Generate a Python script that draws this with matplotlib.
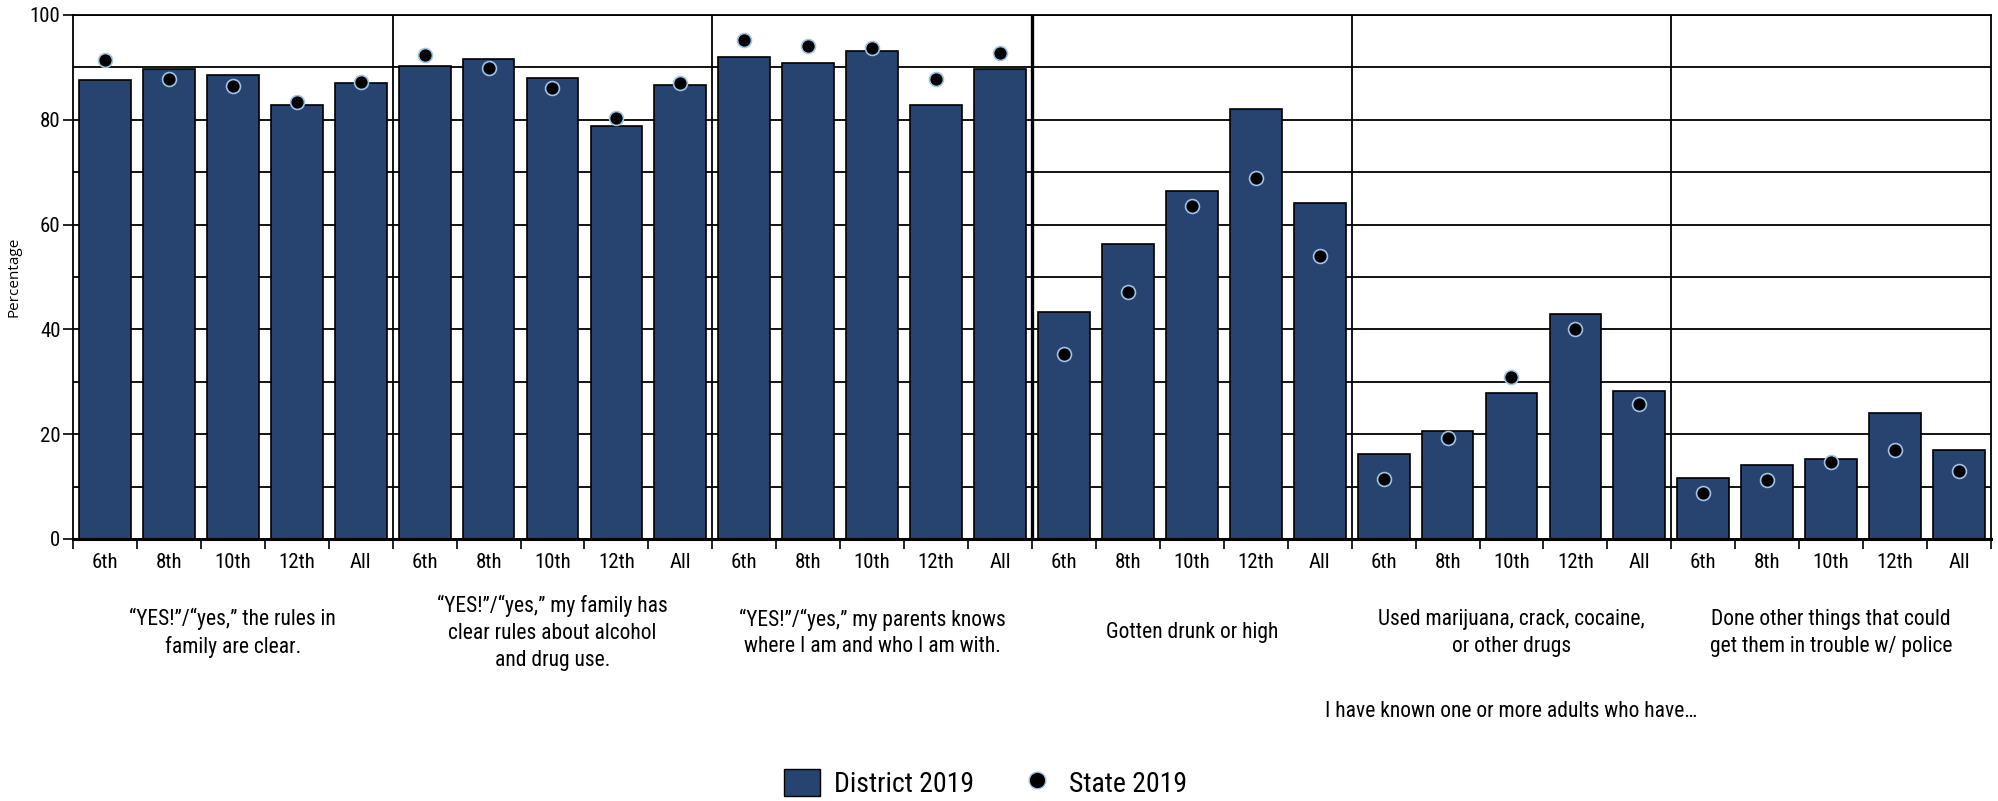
import numpy as np
import matplotlib
matplotlib.use("Agg")
import matplotlib.pyplot as plt
from matplotlib.lines import Line2D
from matplotlib.patches import Patch

plt.rcParams['font.family'] = ['Roboto Condensed', 'Liberation Sans Narrow', 'Roboto', 'DejaVu Sans']

# data
grades = ['6th', '8th', '10th', '12th', 'All']
group_labels = [
    '\u201cYES!\u201d/\u201cyes,\u201d the rules in\nfamily are clear.',
    '\u201cYES!\u201d/\u201cyes,\u201d my family has\nclear rules about alcohol\nand drug use.',
    '\u201cYES!\u201d/\u201cyes,\u201d my parents knows\nwhere I am and who I am with.',
    'Gotten drunk or high',
    'Used marijuana, crack, cocaine,\nor other drugs',
    'Done other things that could\nget them in trouble w/ police',
]
district_rules_clear = [87.6, 89.6, 88.6, 82.8, 87.0]
district_family_rules = [90.3, 91.6, 88.0, 78.8, 86.6]
district_parents_know = [91.9, 90.9, 93.2, 82.8, 89.6]
district_drunk_high = [43.3, 56.3, 66.5, 82.1, 64.2]
district_drugs = [16.2, 20.7, 27.9, 43.0, 28.2]
district_police = [11.6, 14.2, 15.2, 24.0, 16.9]

state_rules_clear = [91.5, 87.7, 86.5, 83.4, 87.2]
state_family_rules = [92.4, 89.9, 86.1, 80.4, 87.1]
state_parents_know = [95.3, 94.0, 93.7, 87.7, 92.7]
state_drunk_high = [35.3, 47.2, 63.6, 68.8, 54.1]
state_drugs = [11.5, 19.3, 30.9, 40.0, 25.7]
state_police = [8.8, 11.3, 14.7, 16.9, 13.0]

district = np.concatenate([district_rules_clear, district_family_rules, district_parents_know,
                           district_drunk_high, district_drugs, district_police])
state = np.concatenate([state_rules_clear, state_family_rules, state_parents_know,
                        state_drunk_high, state_drugs, state_police])

n_groups = len(group_labels)
n = len(district)
xpos = np.arange(n) + 0.5

bar_color = '#26446f'

fig = plt.figure(figsize=(19.99, 8.01), dpi=100)
ax = fig.add_axes([73 / 1999, 1 - 539 / 801, 1918 / 1999, 524 / 801])

# horizontal grid every 10
for yv in np.arange(10, 101, 10):
    ax.axhline(yv, color='black', lw=1.3, zorder=0)

# group separators
for g in range(1, n_groups):
    ax.axvline(g * 5, color='black', lw=2.4 if g == 3 else 1.3, zorder=0.5)

ax.bar(xpos, district, width=0.81, color=bar_color, edgecolor='black', linewidth=1.2, zorder=2)
ax.scatter(xpos, state, s=100, color='black', edgecolors='#9fc3e7', linewidths=1.2, zorder=3)

ax.set_xlim(0, n)
ax.set_ylim(0, 100)

ax.set_yticks(np.arange(0, 101, 20))
ax.tick_params(axis='y', length=7, width=1.2, labelsize=15, pad=2)
ax.set_xticks(xpos)
ax.set_xticklabels(grades * n_groups)
ax.set_xticks(np.arange(0, n + 1), minor=True)
ax.tick_params(axis='x', which='major', length=0, labelsize=15, pad=10)
ax.tick_params(axis='x', which='minor', length=7, width=1.2)

for side in ['top', 'right']:
    ax.spines[side].set_linewidth(1.3)
ax.spines['left'].set_linewidth(1.3)
ax.spines['bottom'].set_linewidth(2.2)

ax.set_ylabel('Percentage', family='Open Sans', fontsize=11)
ax.yaxis.set_label_coords(-0.0266, 0.5)

trans = ax.get_xaxis_transform()
for g, lab in enumerate(group_labels):
    ax.text(g * 5 + 2.5, -0.179, lab, transform=trans, ha='center', va='center',
            fontsize=15.5, linespacing=1.35)
ax.text(22.5, -0.33, 'I have known one or more adults who have\u2026', transform=trans,
        ha='center', va='center', fontsize=15.5)

handles = [Patch(facecolor=bar_color, edgecolor='black', label='District 2019'),
           Line2D([], [], marker='o', linestyle='none', markersize=12, markerfacecolor='black',
                  markeredgecolor='#9fc3e7', label='State 2019')]
fig.legend(handles=handles, loc='center', bbox_to_anchor=(0.493, 0.022), ncol=2, frameon=False,
           fontsize=20, handlelength=1.3, handleheight=1.1, columnspacing=1.6, handletextpad=0.5)

fig.savefig('out.png', dpi=100)
